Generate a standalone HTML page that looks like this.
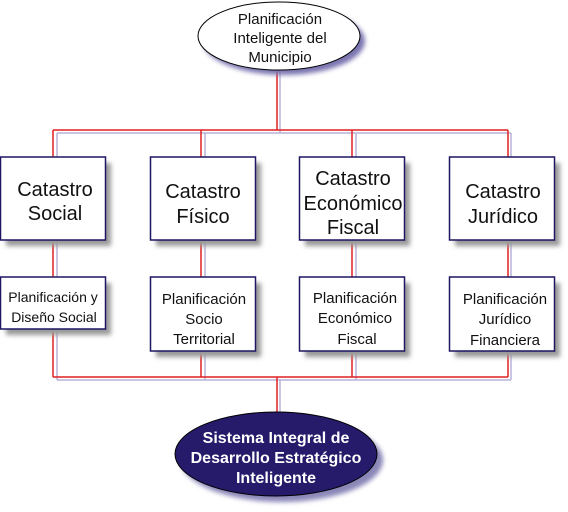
<!DOCTYPE html>
<html><head><meta charset="utf-8"><style>
body{margin:0;background:#fff;}
svg{display:block;}
text{font-family:"Liberation Sans",sans-serif;text-anchor:middle;}
</style></head><body>
<svg width="568" height="512" viewBox="0 0 568 512">
<defs>
<filter id="sh" x="-20%" y="-20%" width="150%" height="150%"><feGaussianBlur stdDeviation="2.5"/></filter>
</defs>
<g stroke="#b8b4d8" stroke-width="1.5" fill="none">
<path d="M280 70V133M57 133H511M57 133V157M205 133V157M356 133V157M511 133V157"/>
<path d="M57 240V277M205 240V277M356 240V277M511 240V277"/>
<path d="M57 329V380M205 351V380M356 351V380M511 351V380M57 380H511M280 380V412"/>
</g>
<g stroke="#e02020" stroke-width="1.5" fill="none">
<path d="M277 70V130M53 130H508M53 130V157M201 130V157M352 130V157M508 130V157"/>
<path d="M53 240V277M201 240V277M352 240V277M508 240V277"/>
<path d="M53 329V377M201 351V377M352 351V377M508 351V377M53 377H508M277 377V412"/>
</g>
<g>
<ellipse cx="284" cy="41" rx="81" ry="34" fill="#7a74b0" filter="url(#sh)"/>
<ellipse cx="279" cy="36" rx="81" ry="34" fill="#fff" stroke="#000" stroke-width="1"/>
<text x="280" y="24" font-size="15" fill="#111">Planificación</text>
<text x="280" y="43" font-size="15" fill="#111">Inteligente del</text>
<text x="280" y="62" font-size="15" fill="#111">Municipio</text>
</g>
<g font-size="20" fill="#111">
<g>
<rect x="6" y="163" width="105" height="83" fill="#999" filter="url(#sh)"/>
<rect x="0.5" y="157" width="105" height="83" fill="#fff" stroke="#1e1660" stroke-width="1.5"/>
<text x="55" y="196" fill="#111">Catastro</text><text x="55" y="220" fill="#111">Social</text></g>
<g>
<rect x="156" y="163" width="105" height="83" fill="#999" filter="url(#sh)"/>
<rect x="150.5" y="157" width="105" height="83" fill="#fff" stroke="#1e1660" stroke-width="1.5"/>
<text x="203" y="198" fill="#111">Catastro</text><text x="203" y="223" fill="#111">Físico</text></g>
<g>
<rect x="305" y="163" width="105" height="83" fill="#999" filter="url(#sh)"/>
<rect x="299.5" y="157" width="105" height="83" fill="#fff" stroke="#1e1660" stroke-width="1.5"/>
<text x="353" y="185" fill="#111">Catastro</text><text x="353" y="210" fill="#111">Económico</text><text x="353" y="234" fill="#111">Fiscal</text></g>
<g>
<rect x="455" y="163" width="105" height="83" fill="#999" filter="url(#sh)"/>
<rect x="449.5" y="157" width="105" height="83" fill="#fff" stroke="#1e1660" stroke-width="1.5"/>
<text x="503" y="198" fill="#111">Catastro</text><text x="503" y="223" fill="#111">Jurídico</text></g>
</g>
<g font-size="15">
<g>
<rect x="6" y="283" width="105" height="52" fill="#999" filter="url(#sh)"/>
<rect x="0.5" y="277" width="105" height="52" fill="#fff" stroke="#1e1660" stroke-width="1.5"/>
<text x="53" y="302" font-size="14" fill="#111">Planificación y</text><text x="54" y="322" font-size="14" fill="#111">Diseño Social</text></g>
<g>
<rect x="156" y="283" width="105" height="74" fill="#999" filter="url(#sh)"/>
<rect x="150.5" y="277" width="105" height="74" fill="#fff" stroke="#1e1660" stroke-width="1.5"/>
<text x="204" y="304" fill="#111">Planificación</text><text x="204" y="324" fill="#111">Socio</text><text x="204" y="344" fill="#111">Territorial</text></g>
<g>
<rect x="305" y="283" width="105" height="74" fill="#999" filter="url(#sh)"/>
<rect x="299.5" y="277" width="105" height="74" fill="#fff" stroke="#1e1660" stroke-width="1.5"/>
<text x="355" y="303" fill="#111">Planificación</text><text x="355" y="323" fill="#111">Económico</text><text x="357" y="344" fill="#111">Fiscal</text></g>
<g>
<rect x="455" y="283" width="105" height="74" fill="#999" filter="url(#sh)"/>
<rect x="449.5" y="277" width="105" height="74" fill="#fff" stroke="#1e1660" stroke-width="1.5"/>
<text x="505" y="304" fill="#111">Planificación</text><text x="505" y="324" fill="#111">Jurídico</text><text x="505" y="345" fill="#111">Financiera</text></g>
</g>
<g>
<ellipse cx="282" cy="460" rx="101" ry="42" fill="#8a86b8" filter="url(#sh)"/>
<ellipse cx="276" cy="454" rx="101" ry="42" fill="#261a6b" stroke="#000" stroke-width="1"/>
<text x="276" y="443" font-size="16" font-weight="bold" fill="#fff">Sistema Integral de</text>
<text x="276" y="463" font-size="16" font-weight="bold" fill="#fff">Desarrollo Estratégico</text>
<text x="276" y="483" font-size="16" font-weight="bold" fill="#fff">Inteligente</text>
</g>
</svg>
</body></html>
